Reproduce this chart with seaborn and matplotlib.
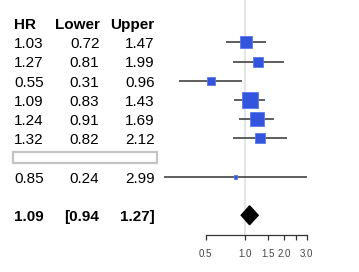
import numpy as np
import pandas as pd
import matplotlib
matplotlib.use("Agg")
import matplotlib.pyplot as plt
import matplotlib.transforms as mtransforms
from matplotlib.patches import Rectangle
import seaborn as sns

# ── data ──────────────────────────────────────────────────────────────────────
hr = [1.03, 1.27, 0.55, 1.09, 1.24, 1.32, np.nan, 0.85]
lower = [0.72, 0.81, 0.31, 0.83, 0.91, 0.82, np.nan, 0.24]
upper = [1.47, 1.99, 0.96, 1.43, 1.69, 2.12, np.nan, 2.99]
weights = [12.0, 10.0, 8.0, 16.0, 13.7, 10.0, np.nan, 3.5]

summary_hr = 1.09
summary_lo = 0.94
summary_hi = 1.27

header = ["HR", "Lower", "Upper"]
tick_vals = [0.5, 1.0, 1.5, 2.0, 2.5, 3.0]
tick_labels = ["0.5", "1.0", "1.5", "2.0", "", "3.0"]

W, H, DPI = 359, 272, 100
SQUARE = "#3355dd"
LINE = "#333333"

df = pd.DataFrame({"hr": hr, "lower": lower, "upper": upper, "weight": weights})
df["row"] = np.arange(len(df))
summary_row = len(df) + 1
studies = df.dropna()

sns.set_theme(style="white")
plt.rcParams["font.family"] = ["Liberation Sans", "DejaVu Sans"]

fig = plt.figure(figsize=(W / DPI, H / DPI), dpi=DPI)
ax = fig.add_axes([150 / W, 1 - 234.5 / H, 209 / W, 234.5 / H])
ax.set_facecolor("none")

# ── forest part ───────────────────────────────────────────────────────────────
ax.set_xscale("log")
x_at = lambda px: np.exp((px - 244.7) / 56.5)
ax.set_xlim(x_at(150), x_at(359))
ax.set_ylim(summary_row + 1, -2.2)

ax.axvline(1.0, color="#e6e6e6", lw=1.6, zorder=0)
ax.hlines(studies["row"], studies["lower"], studies["upper"], color=LINE, lw=1.1, zorder=1)
sns.scatterplot(data=studies, x="hr", y="row", marker="s",
                s=(studies["weight"] * 0.72) ** 2, color=SQUARE,
                edgecolor="#5b78ea", linewidth=0.6, ax=ax, zorder=2, legend=False)

ax.hlines([summary_row], [summary_lo], [summary_hi], color="black", lw=1.1)
ax.fill([summary_lo, summary_hr, summary_hi, summary_hr],
        [summary_row, summary_row - 0.49, summary_row, summary_row + 0.49],
        color="black", zorder=3)

ax.set_xticks(tick_vals)
ax.set_xticklabels(tick_labels)
ax.xaxis.set_minor_locator(matplotlib.ticker.NullLocator())
ax.set_yticks([])
ax.set_xlabel("")
ax.set_ylabel("")
for side in ["top", "right", "left"]:
    ax.spines[side].set_visible(False)
ax.spines["bottom"].set_bounds(0.5, 3.0)
ax.spines["bottom"].set_color(LINE)
ax.spines["bottom"].set_linewidth(0.9)
ax.tick_params(axis="x", direction="out", length=3.6, width=0.9, color=LINE,
               labelsize=7, labelcolor="#444444", pad=6.5, bottom=True)

# ── text table ────────────────────────────────────────────────────────────────
trans = mtransforms.blended_transform_factory(fig.transFigure, ax.transData)
cols = [(14 / W, "left"), (99.5 / W, "right"), (154.5 / W, "right")]
off = 0.31
for (cx, ha), label in zip(cols, header):
    ax.text(cx, -1 + off, label, transform=trans, ha=ha, va="baseline",
            fontsize=11, fontweight="bold", color="black", clip_on=False)

for _, r in df.iterrows():
    if np.isnan(r["hr"]):
        ax.add_patch(Rectangle((13 / W, r["row"] - 0.29), 144 / W, 0.58,
                               transform=trans, fill=False, edgecolor="#c4c4c4",
                               lw=1.6, clip_on=False))
        continue
    vals = [f"{r['hr']:.2f}", f"{r['lower']:.2f}", f"{r['upper']:.2f}"]
    for (cx, ha), v in zip(cols, vals):
        ax.text(cx, r["row"] + off, v, transform=trans, ha=ha, va="baseline",
                fontsize=11, color="black", clip_on=False)

sum_txt = [f"{summary_hr:.2f}", f"[{summary_lo:.2f}", f"{summary_hi:.2f}]"]
for (cx, ha), v in zip(cols, sum_txt):
    ax.text(cx, summary_row + off, v, transform=trans, ha=ha, va="baseline",
            fontsize=11, fontweight="bold", color="black", clip_on=False)

fig.savefig("out.png", dpi=DPI)
